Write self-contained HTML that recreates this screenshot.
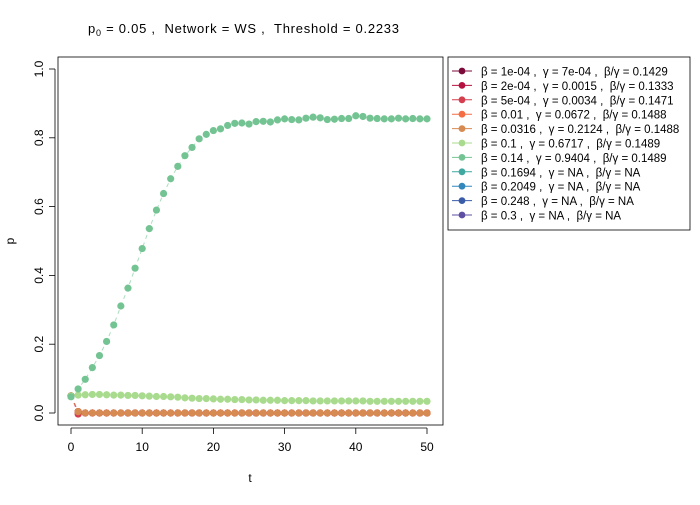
<!DOCTYPE html>
<html><head><meta charset="utf-8"><style>
body{margin:0;background:#fff;}
svg text{font-family:"Liberation Sans",sans-serif;fill:#000;white-space:pre;}
</style></head><body>
<svg width="700" height="500" xmlns="http://www.w3.org/2000/svg">
<rect width="700" height="500" fill="#fff"/>
<text x="88" y="33" font-size="13" xml:space="preserve" textLength="311" lengthAdjust="spacing">p<tspan font-size="9" dy="3">0</tspan><tspan dy="-3"> = 0.05 ,  Network = WS ,  Threshold = 0.2233</tspan></text>
<rect x="58" y="57" width="385" height="368" fill="none" stroke="#000" stroke-width="0.8"/>
<g id="axes"></g>
<g id="series"></g>
<g id="legend"></g>
<text x="250" y="482" font-size="12" text-anchor="middle">t</text>
<text x="14" y="241" font-size="12" text-anchor="middle" transform="rotate(-90 14 241)">p</text>
</svg>
<script>
const tVals=Array.from({length:51},(_,i)=>i);
const seriesLabels=["β = 1e-04 ,  γ = 7e-04 ,  β/γ = 0.1429","β = 2e-04 ,  γ = 0.0015 ,  β/γ = 0.1333","β = 5e-04 ,  γ = 0.0034 ,  β/γ = 0.1471","β = 0.01 ,  γ = 0.0672 ,  β/γ = 0.1488","β = 0.0316 ,  γ = 0.2124 ,  β/γ = 0.1488","β = 0.1 ,  γ = 0.6717 ,  β/γ = 0.1489","β = 0.14 ,  γ = 0.9404 ,  β/γ = 0.1489","β = 0.1694 ,  γ = NA ,  β/γ = NA","β = 0.2049 ,  γ = NA ,  β/γ = NA","β = 0.248 ,  γ = NA ,  β/γ = NA","β = 0.3 ,  γ = NA ,  β/γ = NA"];
const seriesColors=["#7b0a3a","#b5123f","#d53e4f","#f46d43","#d68b52","#a9db8e","#74c493","#3fa8a0","#3288bd","#3a5ba8","#5e4fa2"];
const zeroSeries=[0.05,0.004,0,0,0,0,0,0,0,0,0,0,0,0,0,0,0,0,0,0,0,0,0,0,0,0,0,0,0,0,0,0,0,0,0,0,0,0,0,0,0,0,0,0,0,0,0,0,0,0,0];
const redSeries=[0.05,-0.003,0,0,0,0,0,0,0,0,0,0,0,0,0,0,0,0,0,0,0,0,0,0,0,0,0,0,0,0,0,0,0,0,0,0,0,0,0,0,0,0,0,0,0,0,0,0,0,0,0];
const seriesBeta01=[0.05,0.052,0.053,0.054,0.054,0.053,0.052,0.052,0.051,0.051,0.050,0.049,0.048,0.048,0.047,0.046,0.044,0.043,0.042,0.042,0.041,0.040,0.040,0.039,0.039,0.038,0.038,0.037,0.037,0.037,0.036,0.036,0.036,0.036,0.035,0.035,0.035,0.035,0.035,0.035,0.035,0.035,0.034,0.034,0.034,0.034,0.034,0.034,0.034,0.034,0.034];
const seriesBeta014=[0.047,0.070,0.098,0.132,0.167,0.208,0.256,0.311,0.363,0.421,0.478,0.536,0.590,0.638,0.681,0.717,0.748,0.772,0.797,0.810,0.821,0.826,0.836,0.842,0.843,0.840,0.847,0.848,0.846,0.852,0.855,0.853,0.852,0.857,0.860,0.858,0.853,0.854,0.856,0.856,0.864,0.862,0.857,0.856,0.855,0.855,0.857,0.855,0.856,0.855,0.855];
const seriesData=[zeroSeries,zeroSeries,redSeries,zeroSeries,zeroSeries,seriesBeta01,seriesBeta014,null,null,null,null];
const xTicks=[0,10,20,30,40,50];
const yTicks=[0,0.2,0.4,0.6,0.8,1.0];
const yTickLabels=["0.0","0.2","0.4","0.6","0.8","1.0"];
const NS="http://www.w3.org/2000/svg";
const X=t=>71+t*7.12, Y=p=>413-p*344;
function mk(tag,attrs,parent){const e=document.createElementNS(NS,tag);for(const k in attrs)e.setAttribute(k,attrs[k]);parent.appendChild(e);return e;}
const ax=document.getElementById('axes');
const xl=mk('line',{x1:X(0),x2:X(50),y1:428,y2:428,stroke:'#000','stroke-width':0.8},ax);


xTicks.forEach(t=>{mk('line',{x1:X(t),x2:X(t),y1:428,y2:434,stroke:'#000','stroke-width':0.8},ax);
const tx=mk('text',{x:X(t),y:451,'font-size':12,'text-anchor':'middle'},ax);tx.textContent=t;

});
const yl=mk('line',{x1:55,x2:55,y1:Y(0),y2:Y(1),stroke:'#000','stroke-width':0.8},ax);


yTicks.forEach((p,i)=>{mk('line',{x1:49,x2:55,y1:Y(p),y2:Y(p),stroke:'#000','stroke-width':0.8},ax);
const tx=mk('text',{x:43,y:Y(p),'font-size':12,'text-anchor':'middle',transform:`rotate(-90 43 ${Y(p)})`},ax);tx.textContent=yTickLabels[i];

});
const sg=document.getElementById('series');
seriesData.forEach((d,si)=>{if(!d)return;
const g=mk('g',{},sg);


mk('polyline',{points:d.map((v,i)=>X(tVals[i])+','+Y(v)).join(' '),fill:'none',stroke:seriesColors[si],'stroke-width':1,'stroke-dasharray':'4,4',opacity:0.6},g);
d.forEach((v,i)=>{const c=mk('circle',{cx:X(tVals[i]),cy:Y(v),r:3.6,fill:seriesColors[si]},g);

});});
const lg=document.getElementById('legend');
const box=mk('rect',{x:448,y:57,width:242,height:173,fill:'#fff',stroke:'#000','stroke-width':0.8},lg);


seriesLabels.forEach((s,i)=>{const y=71+i*14.4;
const g=mk('g',{},lg);


mk('line',{x1:452,x2:472,y1:y,y2:y,stroke:seriesColors[i],'stroke-width':1},g);
mk('circle',{cx:462,cy:y,r:3.4,fill:seriesColors[i]},g);
const tx=mk('text',{x:481,y:y+4.5,'font-size':11.5},g);tx.setAttribute('xml:space','preserve');tx.textContent=s;});
</script>
</body></html>
